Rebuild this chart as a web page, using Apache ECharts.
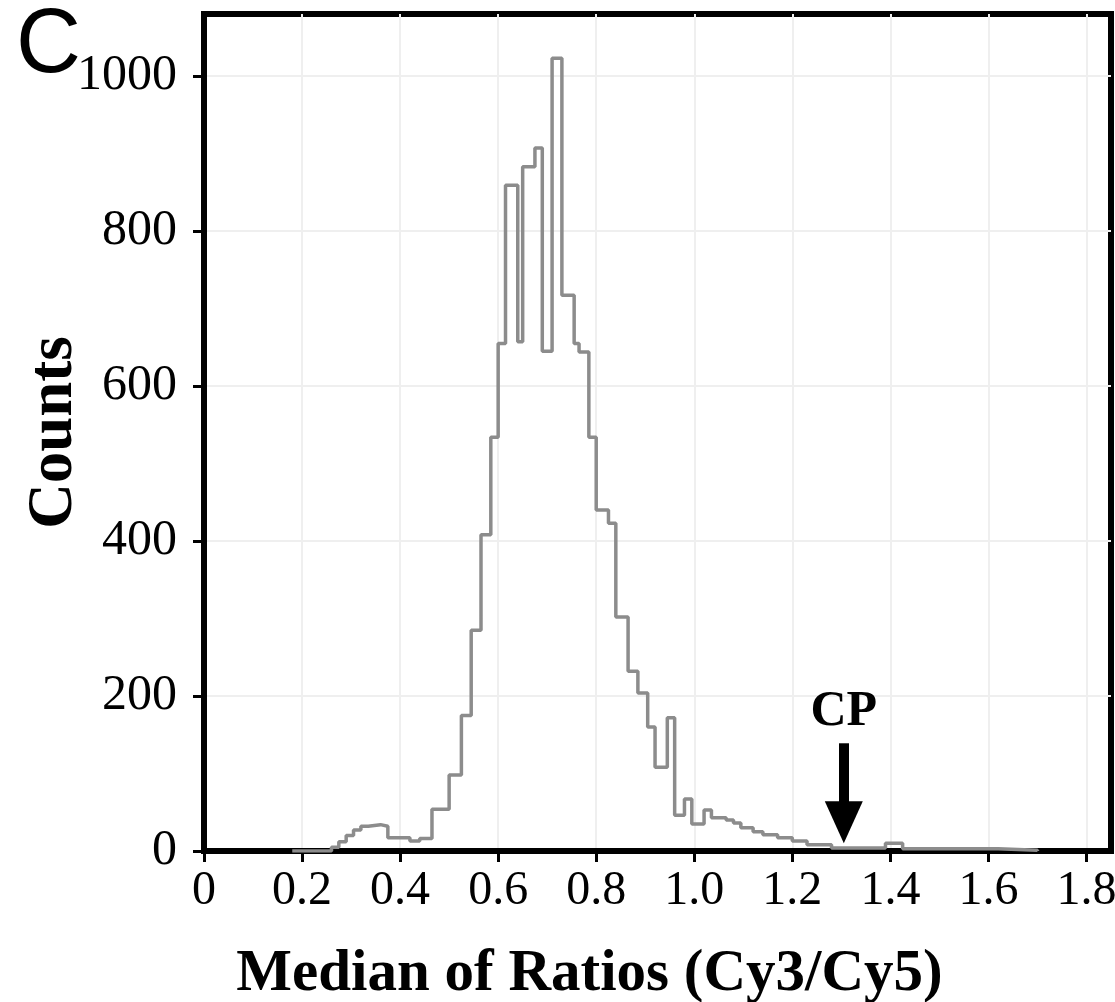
<!DOCTYPE html>
<html>
<head>
<meta charset="utf-8">
<script src="https://cdn.jsdelivr.net/npm/echarts@6/dist/echarts.min.js"></script>
<style>
  html, body { margin: 0; padding: 0; background: #fff; }
  #chart { width: 1115px; height: 1002px; }
</style>
</head>
<body>
<div id="chart"></div>
<script>
// left edge of each histogram step and its count
const binEdges = [
  0.18, 0.26, 0.275, 0.29, 0.305, 0.32, 0.335, 0.36, 0.375, 0.42, 0.44,
  0.465, 0.50, 0.525, 0.545, 0.565, 0.585, 0.60, 0.615, 0.64, 0.65, 0.675,
  0.69, 0.71, 0.73, 0.755, 0.765, 0.785, 0.80, 0.825, 0.84, 0.865, 0.885,
  0.905, 0.92, 0.945, 0.96, 0.98, 0.995, 1.02, 1.035, 1.065, 1.08, 1.095,
  1.12, 1.14, 1.17, 1.20, 1.23, 1.28, 1.39, 1.425, 1.62, 1.70
];
const binCounts = [
  0, 5, 12, 20, 27, 32, 34, 32, 17, 13, 16,
  54, 98, 175, 285, 408, 534, 655, 859, 657, 883, 907,
  645, 1023, 717, 655, 644, 534, 440, 423, 302, 232, 204,
  160, 108, 172, 46, 67, 35, 53, 43, 40, 36, 30,
  25, 21, 17, 13, 8, 4, 10, 3, 1, 0
];
const xTicks = [0, 0.2, 0.4, 0.6, 0.8, 1.0, 1.2, 1.4, 1.6, 1.8];
const yTicks = [0, 200, 400, 600, 800, 1000];
const cpValue = 1.305;

const serif = "'Liberation Serif', 'Times New Roman', serif";

// 初始化图表
const chart = echarts.init(document.getElementById('chart'), null, { renderer: 'canvas' });

const stepData = binEdges.map((x, i) => [x, binCounts[i]]);

chart.setOption({
  animation: false,
  backgroundColor: '#fff',
  grid: {
    left: 204, right: 4, top: 14, bottom: 151,
    outerBoundsMode: 'none',
    containLabel: false,
    show: true, borderColor: '#000', borderWidth: 6
  },
  xAxis: {
    type: 'value',
    min: 0, max: 1.85,
    name: 'Median of Ratios (Cy3/Cy5)',
    nameLocation: 'middle',
    nameMoveOverlap: false,
    nameGap: 94,
    nameTextStyle: {
      fontFamily: serif, fontWeight: 'bold', fontSize: 59, color: '#000',
      padding: [0, 136, 0, 0]
    },
    axisLine: { show: true, onZero: false, lineStyle: { color: '#000', width: 6 } },
    axisTick: { show: true, length: 11, customValues: xTicks, lineStyle: { color: '#000', width: 3 } },
    axisLabel: {
      customValues: xTicks,
      margin: 16,
      fontFamily: serif, fontSize: 48, color: '#000',
      formatter: v => (v === 0 ? '0' : v.toFixed(1))
    },
    splitLine: { show: true, lineStyle: { color: '#efefef', width: 2 } }
  },
  yAxis: {
    type: 'value',
    min: 0, max: 1080,
    name: 'Counts',
    nameLocation: 'middle',
    nameMoveOverlap: false,
    nameGap: 118,
    nameTextStyle: { fontFamily: serif, fontWeight: 'bold', fontSize: 63, color: '#000' },
    axisLine: { show: true, lineStyle: { color: '#000', width: 6 } },
    axisTick: { show: true, length: 11, customValues: yTicks, lineStyle: { color: '#000', width: 3 } },
    axisLabel: {
      customValues: yTicks,
      margin: 27,
      fontFamily: serif, fontSize: 50, color: '#000',
      formatter: v => String(v)
    },
    splitLine: { show: true, lineStyle: { color: '#efefef', width: 2 } }
  },
  series: [{
    type: 'line',
    step: 'end',
    data: stepData,
    showSymbol: false,
    lineStyle: { color: '#8c8c8c', width: 3.5 },
    markLine: {
      silent: true,
      symbol: ['none', 'triangle'],
      symbolSize: [38, 42],
      lineStyle: { color: '#000', width: 10, type: 'solid' },
      label: {
        show: true,
        position: 'start',
        distance: 6,
        formatter: 'CP',
        fontFamily: serif, fontWeight: 'bold', fontSize: 50, color: '#000'
      },
      data: [[{ coord: [cpValue, 139] }, { coord: [cpValue, 37] }]]
    }
  }],
  graphic: [{
    type: 'text',
    left: 16, top: 2,
    style: {
      text: 'C',
      font: "90px 'Liberation Sans', Arial, sans-serif",
      fill: '#000'
    }
  }]
});

window.addEventListener('resize', () => chart.resize());
</script>
</body>
</html>
